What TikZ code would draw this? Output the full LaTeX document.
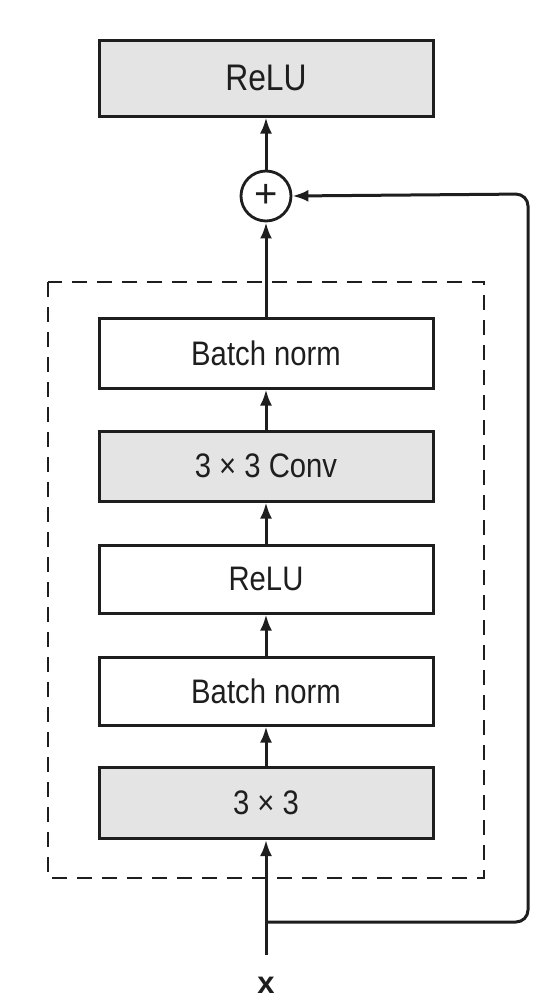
\documentclass[tikz,border=0pt]{standalone}
\usepackage{fontspec}
\setmainfont{Liberation Sans}
\newfontfamily\condfont[FakeStretch=0.86]{Liberation Sans}
\usetikzlibrary{arrows.meta}
\definecolor{boxgray}{HTML}{E4E4E4}
\definecolor{ink}{HTML}{1E1E1E}
\begin{document}
\begin{tikzpicture}[x=1pt,y=-1pt,
  blk/.style={draw=ink,line width=3pt,minimum width=334pt,inner sep=0pt,text=ink,font=\condfont\fontsize{34}{36}\selectfont},
  grayblk/.style={blk,fill=boxgray},
  arr/.style={draw=ink,line width=3pt,-{Latex[length=16pt,width=12pt]}}]
\useasboundingbox (0,0) rectangle (548,1001);
\fill[white] (0,0) rectangle (548,1001);
% dashed frame
\draw[draw=ink,line width=2.8pt,dash pattern=on 15pt off 10pt] (48,282) rectangle (484,878);
% nodes
\node[grayblk,minimum height=76pt,font=\condfont\fontsize{37}{39}\selectfont] (relu2) at (266,78) {ReLU};
\node[draw=ink,line width=2.8pt,circle,minimum size=50pt,inner sep=0pt,text=ink,font=\fontsize{40}{42}\selectfont] (add) at (266,196) {+};
\node[blk,minimum height=70pt] (bn2) at (266,353) {Batch norm};
\node[grayblk,minimum height=70pt] (conv2) at (266,466) {3 × 3 Conv};
\node[blk,minimum height=68pt] (relu1) at (266,579) {ReLU};
\node[blk,minimum height=68pt] (bn1) at (266,691) {Batch norm};
\node[grayblk,minimum height=71pt] (conv1) at (266,803) {3 × 3};
\node[anchor=base,inner sep=0pt,text=ink,font=\bfseries\fontsize{31}{33}\selectfont] (x) at (266,993) {x};
\coordinate (xs) at (266,955);
\coordinate (br) at (266,922);
% connectors
\draw[arr] (xs) -- (conv1);
\draw[arr] (conv1) -- (bn1);
\draw[arr] (bn1) -- (relu1);
\draw[arr] (relu1) -- (conv2);
\draw[arr] (conv2) -- (bn2);
\draw[arr] (bn2) -- (add);
\draw[arr] (add) -- (relu2);
\draw[arr,rounded corners=12pt] (br) -- (528,922) -- (528,194) -- (add.east);
\end{tikzpicture}
\end{document}
